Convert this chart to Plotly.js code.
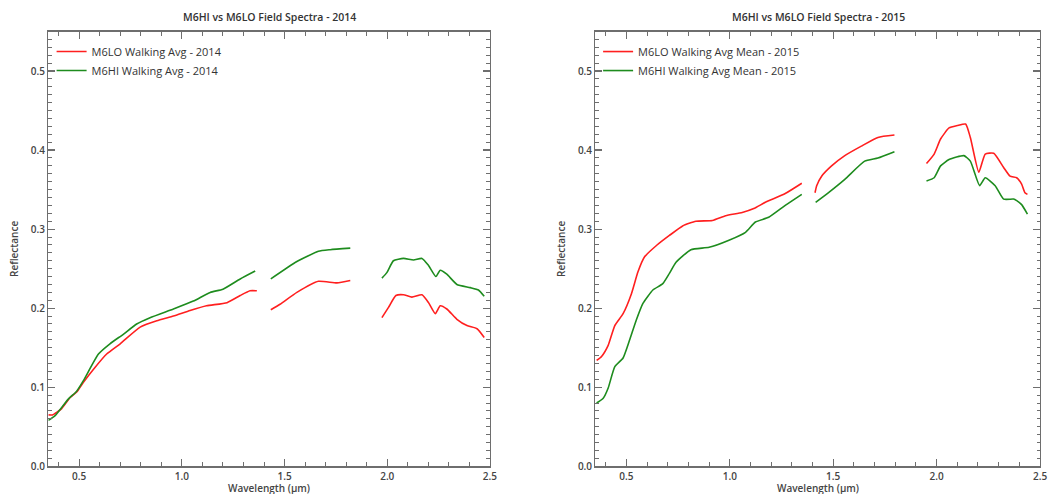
<!DOCTYPE html>
<html>
<head>
<meta charset="utf-8">
<script src="https://cdn.plot.ly/plotly-3.0.1.min.js"></script>
<style>html,body{margin:0;padding:0;background:#fff;}#chart{width:1053px;height:494px;}</style>
</head>
<body>
<div id="chart"></div>
<script>
// ---- Data (null separates the segments cut out by water-absorption bands) ----
const titles = ["M6HI vs M6LO Field Spectra - 2014", "M6HI vs M6LO Field Spectra - 2015"];
const xTitle = "Wavelength (µm)";
const yTitle = "Reflectance";
const seriesNames2014 = ["M6LO Walking Avg - 2014", "M6HI Walking Avg - 2014"];
const seriesNames2015 = ["M6LO Walking Avg Mean - 2015", "M6HI Walking Avg Mean - 2015"];

const lo2014X = [0.35,0.37,0.415,0.456,0.488,0.52,0.577,0.634,0.70,0.797,0.878,0.959,1.04,1.12,1.22,1.284,1.332,1.365,
  null,1.433,1.478,1.56,1.665,1.755,1.82,
  null,1.974,2.006,2.042,2.079,2.12,2.169,2.201,2.234,2.258,2.29,2.339,2.388,2.437,2.472];
const lo2014Y = [0.065,0.065,0.073,0.087,0.094,0.106,0.125,0.142,0.155,0.176,0.184,0.190,0.197,0.203,0.207,0.216,0.222,0.222,
  null,0.198,0.205,0.220,0.234,0.232,0.235,
  null,0.188,0.201,0.216,0.217,0.214,0.217,0.207,0.193,0.203,0.199,0.186,0.178,0.174,0.163];

const hi2014X = [0.35,0.383,0.447,0.488,0.52,0.594,0.65,0.715,0.78,0.845,0.959,1.056,1.138,1.2,1.284,1.357,
  null,1.433,1.56,1.665,1.722,1.82,
  null,1.974,1.998,2.03,2.079,2.128,2.169,2.201,2.237,2.258,2.29,2.339,2.404,2.444,2.472];
const hi2014Y = [0.058,0.064,0.085,0.095,0.108,0.142,0.155,0.167,0.180,0.188,0.199,0.209,0.220,0.224,0.237,0.247,
  null,0.237,0.259,0.272,0.274,0.276,
  null,0.238,0.245,0.260,0.263,0.261,0.263,0.254,0.240,0.248,0.243,0.230,0.226,0.223,0.215];

const lo2015X = [0.356,0.38,0.412,0.444,0.484,0.524,0.556,0.588,0.644,0.708,0.772,0.836,0.916,0.98,1.06,1.116,1.172,1.268,1.348,
  null,1.412,1.42,1.444,1.492,1.556,1.636,1.716,1.796,
  null,1.951,1.988,2.019,2.06,2.10,2.14,2.163,2.204,2.235,2.276,2.324,2.355,2.387,2.411,2.427,2.439];
const lo2015Y = [0.134,0.139,0.153,0.178,0.193,0.218,0.246,0.265,0.279,0.292,0.304,0.310,0.311,0.317,0.321,0.326,0.334,0.345,0.358,
  null,0.346,0.355,0.367,0.380,0.393,0.405,0.416,0.419,
  null,0.383,0.395,0.414,0.428,0.431,0.433,0.416,0.372,0.395,0.396,0.378,0.367,0.365,0.357,0.346,0.344];

const hi2015X = [0.356,0.388,0.412,0.444,0.484,0.516,0.548,0.58,0.628,0.676,0.708,0.74,0.812,0.90,0.996,1.076,1.124,1.188,1.268,1.348,
  null,1.415,1.476,1.556,1.652,1.716,1.796,
  null,1.951,1.988,2.019,2.06,2.132,2.163,2.208,2.235,2.283,2.324,2.372,2.387,2.411,2.439];
const hi2015Y = [0.080,0.086,0.099,0.126,0.137,0.160,0.185,0.206,0.223,0.231,0.244,0.258,0.274,0.277,0.286,0.296,0.309,0.315,0.330,0.344,
  null,0.334,0.346,0.363,0.386,0.390,0.398,
  null,0.361,0.365,0.380,0.388,0.393,0.386,0.355,0.365,0.355,0.338,0.338,0.336,0.331,0.319];

const xTickVals = [0.5, 1.0, 1.5, 2.0, 2.5];
const xTickText = ["0.5", "1.0", "1.5", "2.0", "2.5"];
const yTickVals = [0.0, 0.1, 0.2, 0.3, 0.4, 0.5];
const yTickText = ["0.0", "0.1", "0.2", "0.3", "0.4", "0.5"];

const RED = "#ff1f1f", GREEN = "#1e8c1e";
const AXC = "#6e6e6e";
const FONT = "Open Sans, DejaVu Sans, sans-serif";

function tr(x, y, name, color, xa, ya, leg) {
  return {x: x, y: y, name: name, type: "scatter", mode: "lines", connectgaps: false,
    line: {color: color, width: 1.6, shape: "spline", smoothing: 0.5}, xaxis: xa, yaxis: ya, legend: leg, hoverinfo: "skip"};
}

const data = [
  tr(lo2014X, lo2014Y, seriesNames2014[0], RED, "x", "y", "legend"),
  tr(hi2014X, hi2014Y, seriesNames2014[1], GREEN, "x", "y", "legend"),
  tr(lo2015X, lo2015Y, seriesNames2015[0], RED, "x2", "y2", "legend2"),
  tr(hi2015X, hi2015Y, seriesNames2015[1], GREEN, "x2", "y2", "legend2")
];

function xAxis(domain, anchor) {
  return {domain: domain, anchor: anchor, range: [0.35, 2.5], showgrid: false, zeroline: false,
    showline: true, linecolor: AXC, linewidth: 1.3, mirror: "allticks",
    ticks: "inside", ticklen: 7, tickwidth: 1.2, tickcolor: AXC,
    tickvals: xTickVals, ticktext: xTickText,
    minor: {dtick: 0.1, tick0: 0, ticks: "inside", ticklen: 4, tickwidth: 1, tickcolor: AXC, showgrid: false},
    tickfont: {family: FONT, size: 10, color: "#444", weight: 600},
    automargin: false, fixedrange: true};
}
function yAxis(domain, anchor) {
  return {domain: domain, anchor: anchor, range: [0, 0.55], showgrid: false, zeroline: false,
    showline: true, linecolor: AXC, linewidth: 1.3, mirror: "allticks",
    ticks: "inside", ticklen: 7, tickwidth: 1.2, tickcolor: AXC,
    tickvals: yTickVals, ticktext: yTickText,
    minor: {dtick: 0.01, tick0: 0, ticks: "inside", ticklen: 3.5, tickwidth: 1, tickcolor: AXC, showgrid: false},
    tickfont: {family: FONT, size: 10, color: "#444", weight: 600},
    title: {text: yTitle, font: {family: FONT, size: 10, color: "#444", weight: 600}, standoff: 10},
    automargin: false, fixedrange: true};
}

const yDom = [0.0561, 0.9362];
const titleFont = {family: FONT, size: 10.5, color: "#333", weight: 600};
const xTitleFont = {family: FONT, size: 10, color: "#444", weight: 600};
const layout = {
  width: 1053, height: 494,
  margin: {l: 0, r: 0, t: 0, b: 0},
  paper_bgcolor: "#fff", plot_bgcolor: "#fff",
  font: {family: FONT, color: "#444"},
  showlegend: true,
  xaxis: xAxis([0.0459, 0.4653], "y"),
  yaxis: yAxis(yDom, "x"),
  xaxis2: xAxis([0.5654, 0.9877], "y2"),
  yaxis2: yAxis(yDom, "x2"),
  legend: {x: 0.049, y: 0.925, xanchor: "left", yanchor: "top", bgcolor: "rgba(0,0,0,0)",
    font: {family: FONT, size: 11, color: "#333"}, itemwidth: 30, tracegroupgap: 0},
  legend2: {x: 0.568, y: 0.925, xanchor: "left", yanchor: "top", bgcolor: "rgba(0,0,0,0)",
    font: {family: FONT, size: 11, color: "#333"}, itemwidth: 30, tracegroupgap: 0},
  annotations: [
    {text: titles[0], xref: "paper", yref: "paper", x: 0.2556, y: 1 - 17/494, xanchor: "center", yanchor: "middle",
      showarrow: false, font: titleFont},
    {text: titles[1], xref: "paper", yref: "paper", x: 0.7777, y: 1 - 17/494, xanchor: "center", yanchor: "middle",
      showarrow: false, font: titleFont},
    {text: xTitle, xref: "paper", yref: "paper", x: 0.2556, y: -0.004, xanchor: "center", yanchor: "bottom",
      showarrow: false, font: xTitleFont, borderpad: 0},
    {text: xTitle, xref: "paper", yref: "paper", x: 0.7766, y: -0.004, xanchor: "center", yanchor: "bottom",
      showarrow: false, font: xTitleFont, borderpad: 0}
  ]
};

Plotly.newPlot("chart", data, layout, {displayModeBar: false, staticPlot: true});
</script>
</body>
</html>
